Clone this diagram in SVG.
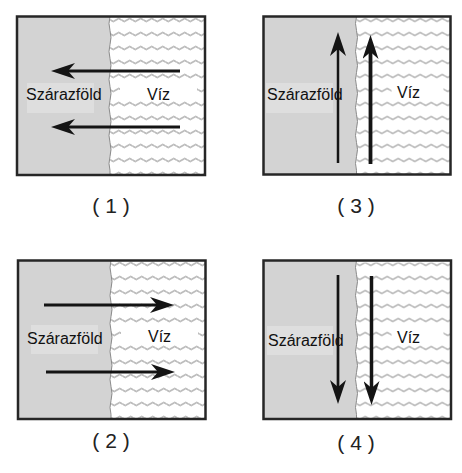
<svg xmlns="http://www.w3.org/2000/svg" width="462" height="473" viewBox="0 0 462 473">
<style>
.bg{fill:#ffffff}
.land{fill:#d3d3d3}
.coast{fill:none;stroke:#8a8a8a;stroke-width:1}
.hl{fill:#dedede}
.wb{fill:#ffffff}
.border{fill:none;stroke:#262626;stroke-width:2.5}
.t{font-family:"Liberation Sans",Arial,sans-serif;font-size:16px;fill:#111}
.cap{font-family:"Liberation Sans",Arial,sans-serif;font-size:21px;fill:#222;text-anchor:middle}
.arr{stroke:#141414;fill:none}
</style>
<defs>
<pattern id="waves" x="0" y="0" width="11" height="14" patternUnits="userSpaceOnUse">
<path d="M0 3.5 Q2.75 0.5 5.5 3.5 T11 3.5" fill="none" stroke="#6a6a6a" stroke-width="0.9"/>
</pattern>
<path id="landshape" d="M0 0 H93 Q91 7 93 14 T93 28 T93 42 T93 56 T93 70 T93 84 T93 98 T93 112 T93 126 T93 140 T93 154 L93 158.5 H0 Z"/>
<path id="coastline" d="M93 0 Q91 7 93 14 T93 28 T93 42 T93 56 T93 70 T93 84 T93 98 T93 112 T93 126 T93 140 T93 154 L93 158.5"/>
<marker id="head" viewBox="0 0 24 16" refX="7" refY="8" markerWidth="24" markerHeight="16" markerUnits="userSpaceOnUse" orient="auto">
<path d="M0 0 L24 8 L0 16 L7 8 Z" fill="#141414"/>
</marker>
</defs>

<g id="panel1" transform="translate(17,16.5)">
<rect class="bg" x="0" y="0" width="188" height="158.5"/>
<rect x="93" y="0" width="95" height="158.5" fill="url(#waves)"/>
<rect class="wb" x="103" y="64" width="77" height="18"/>
<use href="#landshape" class="land"/>
<use href="#coastline" class="coast"/>
<rect class="hl" x="10" y="66.5" width="67" height="30"/>
<text class="t" x="9" y="83.5">Szárazföld</text>
<text class="t" x="130" y="83.5">Víz</text>
<rect class="border" x="0" y="0" width="188" height="158.5"/>
</g>

<g id="panel3" transform="translate(263.5,16.5)">
<rect class="bg" x="0" y="0" width="187" height="158"/>
<rect x="93" y="0" width="94" height="158" fill="url(#waves)"/>
<rect class="wb" x="128" y="64" width="52" height="18"/>
<use href="#landshape" class="land"/>
<use href="#coastline" class="coast"/>
<rect class="hl" x="2.5" y="66.5" width="67" height="30"/>
<text class="t" x="3.5" y="83.5">Szárazföld</text>
<text class="t" x="133.5" y="81.5">Víz</text>
<rect class="border" x="0" y="0" width="187" height="158"/>
</g>

<g id="panel2" transform="translate(18,260.5)">
<rect class="bg" x="0" y="0" width="187.5" height="158.5"/>
<rect x="93" y="0" width="94.5" height="158.5" fill="url(#waves)"/>
<rect class="wb" x="103" y="64" width="77" height="18"/>
<use href="#landshape" class="land"/>
<use href="#coastline" class="coast"/>
<rect class="hl" x="13" y="64.5" width="67" height="29"/>
<text class="t" x="9" y="83.5">Szárazföld</text>
<text class="t" x="130" y="81.5">Víz</text>
<rect class="border" x="0" y="0" width="187.5" height="158.5"/>
</g>

<g id="panel4" transform="translate(263.5,260.5)">
<rect class="bg" x="0" y="0" width="187.5" height="158.5"/>
<rect x="93" y="2" width="94.5" height="156.5" fill="url(#waves)"/>
<rect class="wb" x="128" y="66" width="52" height="18"/>
<use href="#landshape" class="land"/>
<use href="#coastline" class="coast"/>
<rect class="hl" x="3.5" y="65.5" width="66" height="29"/>
<text class="t" x="4.5" y="85.5">Szárazföld</text>
<text class="t" x="133.5" y="82.5">Víz</text>
<rect class="border" x="0" y="0" width="187.5" height="158.5"/>
</g>

<g id="connectors">
<line class="arr" x1="180" y1="71" x2="68" y2="71" stroke-width="3" marker-end="url(#head)"/>
<line class="arr" x1="180" y1="127" x2="68" y2="127" stroke-width="3" marker-end="url(#head)"/>
<line class="arr" x1="44" y1="305" x2="157" y2="305" stroke-width="3" marker-end="url(#head)"/>
<line class="arr" x1="46" y1="372" x2="158" y2="372" stroke-width="3" marker-end="url(#head)"/>
<line class="arr" x1="338" y1="163" x2="338" y2="49" stroke-width="2.5" marker-end="url(#head)"/>
<line class="arr" x1="370.5" y1="164" x2="370.5" y2="52" stroke-width="3.8" marker-end="url(#head)"/>
<line class="arr" x1="338" y1="275" x2="338" y2="387" stroke-width="2.7" marker-end="url(#head)"/>
<line class="arr" x1="371.5" y1="276" x2="371.5" y2="388" stroke-width="3.5" marker-end="url(#head)"/>
</g>

<g id="captions">
<text class="cap" x="111" y="213">( 1 )</text>
<text class="cap" x="356" y="213">( 3 )</text>
<text class="cap" x="111" y="448">( 2 )</text>
<text class="cap" x="356" y="450">( 4 )</text>
</g>
</svg>
